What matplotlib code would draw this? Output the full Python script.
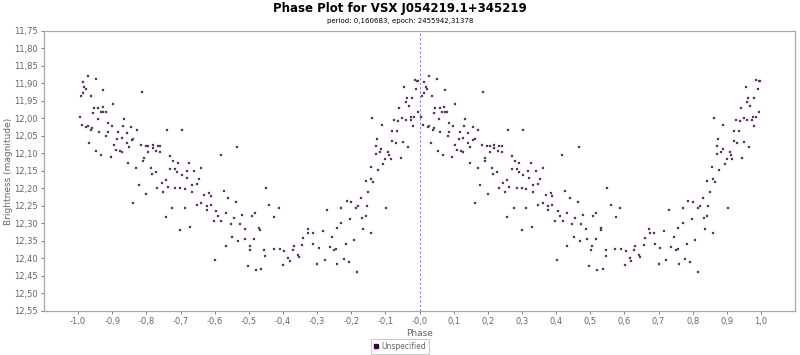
import matplotlib
matplotlib.use("Agg")
import matplotlib.pyplot as plt
from matplotlib.ticker import FuncFormatter
from matplotlib.lines import Line2D
import numpy as np

title = "Phase Plot for VSX J054219.1+345219"
subtitle = "period: 0,160683, epoch: 2455942,31378"
x_label = "Phase"
y_label = "Brightness (magnitude)"
series_name = "Unspecified"

# phase in [0, 1) and magnitude of each observation (plotted at phase and phase-1)
phase = [
    0.028, 0.051, 0.013, 0.018, 0.022, 0.074, 0.186, 0.013, 0.008, 0.037,
    0.103, 0.045, 0.059, 0.072, 0.043, 0.066, 0.074, 0.081, 0.004, 0.057,
    0.133, 0.087, 0.010, 0.028, 0.024, 0.042, 0.038, 0.099, 0.131, 0.155,
    0.172, 0.060, 0.087, 0.083, 0.118, 0.142, 0.114, 0.128, 0.161, 0.157,
    0.032, 0.143, 0.104, 0.149, 0.184, 0.198, 0.206, 0.219, 0.233, 0.241,
    0.110, 0.122, 0.128, 0.218, 0.229, 0.241, 0.206, 0.053, 0.068, 0.096,
    0.192, 0.191, 0.147, 0.170, 0.213, 0.216, 0.227, 0.177, 0.232, 0.245,
    0.200, 0.162,
    0.260, 0.304, 0.466, 0.417, 0.270, 0.278, 0.292, 0.326, 0.270, 0.284,
    0.290, 0.318, 0.340, 0.361, 0.304, 0.256, 0.319, 0.354, 0.347, 0.333,
    0.262, 0.284, 0.299, 0.313, 0.249, 0.333, 0.426, 0.369, 0.384, 0.389,
    0.440, 0.463, 0.347, 0.361, 0.376, 0.389, 0.376, 0.275, 0.313, 0.405,
    0.433, 0.411, 0.480, 0.455, 0.256, 0.397, 0.419, 0.447, 0.474, 0.328,
    0.488, 0.299, 0.451, 0.489, 0.469, 0.433, 0.402,
    0.550, 0.560, 0.588, 0.730, 0.518, 0.509, 0.575, 0.530, 0.532, 0.672,
    0.674, 0.687, 0.716, 0.757, 0.516, 0.659, 0.744, 0.504, 0.689, 0.657,
    0.632, 0.502, 0.545, 0.573, 0.590, 0.604, 0.629, 0.704, 0.737, 0.750,
    0.756, 0.643, 0.646, 0.547, 0.615, 0.619, 0.723, 0.700, 0.601, 0.497,
    0.521, 0.536, 0.759,
    0.986, 0.993, 0.996, 0.955, 0.990, 0.962, 0.978, 0.960, 0.968, 0.940,
    0.994, 0.861, 0.949, 0.976, 0.984, 0.926, 0.937, 0.960, 0.974, 0.890,
    0.980, 0.920, 0.935, 0.874, 0.920, 0.931, 0.951, 0.965, 0.872, 0.888,
    0.884, 0.908, 0.911, 0.872, 0.900, 0.916, 0.945, 0.893, 0.857, 0.878,
    0.843, 0.859, 0.864, 0.850, 0.829, 0.787, 0.800, 0.770, 0.814, 0.820,
    0.846, 0.902, 0.832, 0.843, 0.797, 0.771, 0.835, 0.859, 0.807, 0.784,
    0.778, 0.792, 0.816,
]
magnitude = [
    11.880, 11.888, 11.896, 11.910, 11.916, 11.918, 11.925, 11.928, 11.935, 11.935,
    11.960, 11.969, 11.969, 11.968, 11.984, 11.981, 11.981, 11.981, 11.996, 12.001,
    12.001, 12.012, 12.018, 12.022, 12.025, 12.026, 12.032, 12.022, 12.023, 12.025,
    12.034, 12.039, 12.039, 12.051, 12.039, 12.043, 12.058, 12.056, 12.060, 12.063,
    12.069, 12.071, 12.076, 12.081, 12.076, 12.080, 12.078, 12.076, 12.078, 12.080,
    12.090, 12.093, 12.096, 12.085, 12.092, 12.095, 12.096, 12.094, 12.104, 12.111,
    12.113, 12.123, 12.128, 12.142, 12.142, 12.160, 12.153, 12.190, 12.199, 12.184,
    12.216, 12.241,
    12.033, 12.033, 12.081, 12.104, 12.107, 12.122, 12.128, 12.126, 12.145, 12.145,
    12.154, 12.149, 12.149, 12.142, 12.162, 12.176, 12.171, 12.172, 12.186, 12.190,
    12.197, 12.199, 12.199, 12.203, 12.210, 12.210, 12.208, 12.218, 12.213, 12.222,
    12.227, 12.240, 12.247, 12.243, 12.249, 12.248, 12.261, 12.257, 12.255, 12.265,
    12.271, 12.280, 12.277, 12.284, 12.283, 12.294, 12.292, 12.301, 12.301, 12.309,
    12.315, 12.319, 12.340, 12.344, 12.350, 12.364, 12.403,
    12.198, 12.246, 12.256, 12.262, 12.269, 12.278, 12.281, 12.312, 12.318, 12.315,
    12.326, 12.326, 12.322, 12.314, 12.344, 12.342, 12.340, 12.364, 12.358, 12.362,
    12.365, 12.377, 12.377, 12.374, 12.372, 12.380, 12.376, 12.371, 12.368, 12.377,
    12.373, 12.389, 12.397, 12.393, 12.400, 12.406, 12.403, 12.417, 12.420, 12.422,
    12.432, 12.430, 12.417,
    11.891, 11.894, 11.892, 11.909, 11.915, 11.941, 11.941, 11.954, 11.964, 11.971,
    11.981, 11.998, 11.998, 11.995, 11.995, 12.005, 12.007, 12.005, 12.005, 12.020,
    12.022, 12.035, 12.035, 12.058, 12.065, 12.071, 12.067, 12.081, 12.078, 12.088,
    12.095, 12.095, 12.104, 12.103, 12.117, 12.115, 12.113, 12.130, 12.138, 12.147,
    12.179, 12.174, 12.183, 12.211, 12.227, 12.236, 12.240, 12.257, 12.255, 12.251,
    12.249, 12.257, 12.284, 12.278, 12.286, 12.298, 12.316, 12.328, 12.348, 12.358,
    12.401, 12.409, 12.438,
]

x_ticks = np.round(np.arange(-1.0, 1.0001, 0.1), 1)
y_ticks = np.round(np.arange(11.75, 12.5501, 0.05), 2)

ph = np.array(phase)
mg = np.array(magnitude)
xs = np.concatenate([ph - 1.0, ph])
ys = np.concatenate([mg, mg])

fig = plt.figure(figsize=(8, 3.55), dpi=100)
ax = fig.add_axes([0.055, 0.124, 0.939, 0.789])

pt_color = "#3d0036"
ax.axvline(0.0, color="#7d7dff", lw=0.8, ls=(0, (2, 2)), zorder=1)
ax.scatter(xs, ys, marker="s", s=4.5, color=pt_color, linewidths=0.3,
           edgecolors="#9a7fae", zorder=3)

ax.set_xlim(-1.1, 1.1)
ax.set_ylim(12.55, 11.75)
ax.set_xticks(x_ticks)
ax.set_yticks(y_ticks)
ax.xaxis.set_major_formatter(FuncFormatter(lambda v, p: f"{v:.1f}".replace(".", ",")))
ax.yaxis.set_major_formatter(FuncFormatter(lambda v, p: f"{v:.2f}".replace(".", ",")))

grey = "#666666"
ax.tick_params(axis="both", labelsize=6, colors=grey, length=2.5, width=0.6, pad=2)
for sp in ax.spines.values():
    sp.set_color("#a8a8a8")
    sp.set_linewidth(0.9)

ax.set_xlabel(x_label, fontsize=6.5, color=grey)
ax.set_ylabel(y_label, fontsize=6.5, color=grey)
ax.xaxis.set_label_coords(0.5, -0.064)
ax.yaxis.set_label_coords(-0.041, 0.5)

fig.text(0.5, 0.975, title, ha="center", va="center", fontsize=8.5,
         fontweight="bold", color="#000000")
fig.text(0.5, 0.94, subtitle, ha="center", va="center", fontsize=5, color="#000000")

handle = Line2D([], [], marker="s", ls="none", color=pt_color, markersize=2.2)
leg = fig.legend([handle], [series_name], loc="center",
                 bbox_to_anchor=(0.5, 0.024), fontsize=5.5, frameon=True,
                 fancybox=False, handlelength=0.7, handletextpad=0.4,
                 borderpad=0.35, labelcolor=grey)
leg.get_frame().set_edgecolor("#b0b0b0")
leg.get_frame().set_linewidth(0.6)

fig.savefig("out.png", dpi=100)
